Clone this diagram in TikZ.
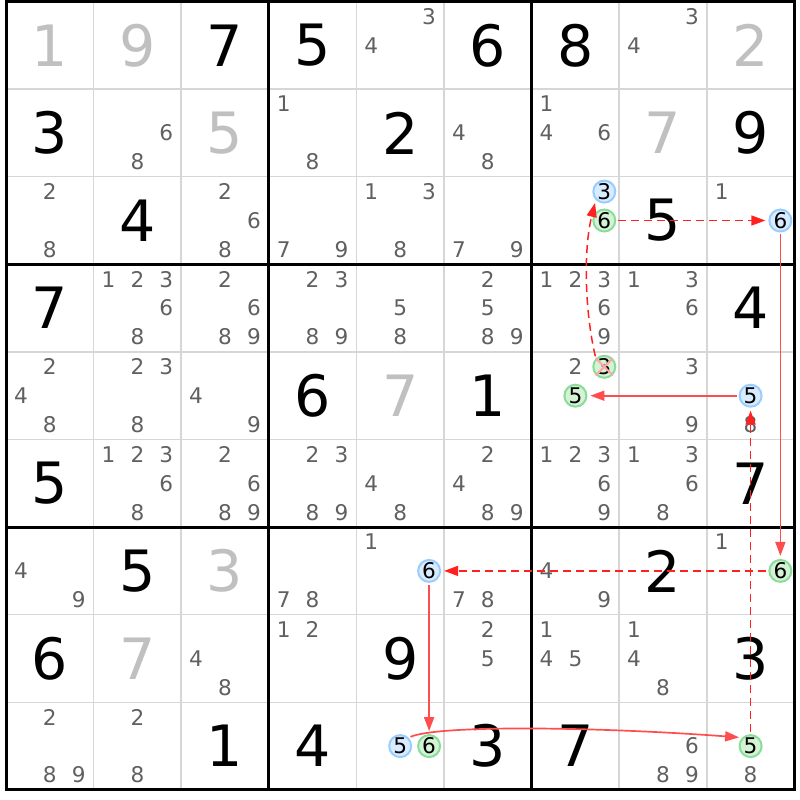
\documentclass[tikz,border=0pt]{standalone}
\usepackage{fontspec}
\setmainfont{DejaVu Sans}
\usetikzlibrary{arrows.meta}
\definecolor{solvedgray}{HTML}{C0C0C0}
\definecolor{candgray}{HTML}{606060}
\definecolor{gridgray}{HTML}{D6D6D6}
\definecolor{onfill}{HTML}{D9EBFF}
\definecolor{onedge}{HTML}{99CCFF}
\definecolor{offfill}{HTML}{D5F2D5}
\definecolor{offedge}{HTML}{88DD99}
\definecolor{linkred}{HTML}{FF2020}
\definecolor{solidred}{HTML}{FF4D4D}
\begin{document}
\begin{tikzpicture}[x=43.8pt,y=-43.8pt,
    given/.style={font=\fontsize{28.5}{30}\selectfont,inner sep=0pt},
    solved/.style={given,text=solvedgray},
    cand/.style={font=\fontsize{10.8}{12}\selectfont,text=candgray,inner sep=0pt},
    oncand/.style={cand,text=black,circle,minimum size=11pt,fill=onfill,draw=onedge,line width=1pt},
    offcand/.style={oncand,fill=offfill,draw=offedge},
    strong/.style={-{Triangle[length=7pt,width=5pt]},color=solidred,line width=0.85pt,shorten >=1.5pt,shorten <=1pt},
    weak/.style={strong,color=linkred,dash pattern=on 4pt off 2.5pt,line width=0.75pt},
]
    \useasboundingbox (-0.0685,-0.017) rectangle (9.064,9.115);

    % thin cell lines
    \foreach \i in {1,2,4,5,7,8} {
        \draw[gridgray,line width=0.75pt] (\i,0) -- (\i,9);
        \draw[gridgray,line width=0.75pt] (0,\i) -- (9,\i);
    }
    % box lines
    \foreach \i in {3,6} {
        \draw[line width=1.5pt] (\i,0) -- (\i,9);
        \draw[line width=1.5pt] (0,\i) -- (9,\i);
    }
    \draw[line width=1.5pt] (0,0) rectangle (9,9);

    % givens
    \foreach \c/\r/\d in {3/1/7, 4/1/5, 6/1/6, 7/1/8, 1/2/3, 5/2/2, 9/2/9, 2/3/4, 8/3/5,
        1/4/7, 9/4/4, 4/5/6, 6/5/1, 1/6/5, 9/6/7, 2/7/5, 8/7/2, 1/8/6, 5/8/9, 9/8/3,
        3/9/1, 4/9/4, 6/9/3, 7/9/7}
        \node[given] (g\c-\r) at (\c-0.5,\r-0.5) {\d};

    % solved cells
    \foreach \c/\r/\d in {1/1/1, 2/1/9, 9/1/2, 3/2/5, 8/2/7, 5/5/7, 3/7/3, 2/8/7}
        \node[solved] (s\c-\r) at (\c-0.5,\r-0.5) {\d};

    % candidates
    \foreach \c/\r/\ds in {5/1/{3,4}, 8/1/{3,4},
        2/2/{6,8}, 4/2/{1,8}, 6/2/{4,8}, 7/2/{1,4,6},
        1/3/{2,8}, 3/3/{2,6,8}, 4/3/{7,9}, 5/3/{1,3,8}, 6/3/{7,9}, 9/3/{1},
        2/4/{1,2,3,6,8}, 3/4/{2,6,8,9}, 4/4/{2,3,8,9}, 5/4/{5,8}, 6/4/{2,5,8,9}, 7/4/{1,2,3,6,9}, 8/4/{1,3,6},
        1/5/{2,4,8}, 2/5/{2,3,8}, 3/5/{4,9}, 7/5/{2}, 8/5/{3,9}, 9/5/{8},
        2/6/{1,2,3,6,8}, 3/6/{2,6,8,9}, 4/6/{2,3,8,9}, 5/6/{4,8}, 6/6/{2,4,8,9}, 7/6/{1,2,3,6,9}, 8/6/{1,3,6,8},
        1/7/{4,9}, 4/7/{7,8}, 5/7/{1}, 6/7/{7,8}, 7/7/{4,9}, 9/7/{1},
        3/8/{4,8}, 4/8/{1,2}, 6/8/{2,5}, 7/8/{1,4,5}, 8/8/{1,4,8},
        1/9/{2,8,9}, 2/9/{2,8}, 8/9/{6,8,9}, 9/9/{8}} {
        \foreach \d in \ds {
            \pgfmathsetmacro\dx{(mod(\d-1,3)-1)*0.33}
            \pgfmathsetmacro\dy{(floor((\d-1)/3)-1)*0.33}
            \node[cand] (c\c-\r-\d) at (\c-0.5+\dx,\r-0.5+\dy) {\d};
        }
    }

    % chain candidates
    \node[oncand] (r3c7d3) at (6.83,2.17) {3};
    \node[offcand] (r3c7d6) at (6.83,2.5) {6};
    \node[oncand] (r3c9d6) at (8.84,2.5) {6};
    \node[offcand] (r5c7d3) at (6.83,4.17) {3};
    \node[offcand] (r5c7d5) at (6.5,4.5) {5};
    \node[oncand] (r5c9d5) at (8.5,4.5) {5};
    \node[oncand] (r7c5d6) at (4.83,6.5) {6};
    \node[offcand] (r7c9d6) at (8.84,6.5) {6};
    \node[oncand] (r9c5d5) at (4.5,8.5) {5};
    \node[offcand] (r9c5d6) at (4.83,8.5) {6};
    \node[offcand] (r9c9d5) at (8.5,8.5) {5};

    % eliminated
    \draw[red!35,line width=1pt] (r5c7d3.north west) -- (r5c7d3.south east);
    \draw[red!35,line width=1pt] (r5c7d3.north east) -- (r5c7d3.south west);

    % links
    \draw[weak] (r3c7d6) -- (r3c9d6);
    \draw[strong] (r3c9d6) -- (r7c9d6);
    \draw[weak] (r7c9d6) -- (r7c5d6);
    \draw[strong] (r7c5d6) -- (r9c5d6);
    \draw[strong] (r9c5d5.north east) .. controls +(0.35,-0.15) and +(-1.6,-0.12) .. (r9c9d5.north west);
    \draw[weak] (r9c9d5) -- (r5c9d5);
    \draw[strong] (r5c9d5) -- (r5c7d5);
    \draw[weak] (r5c7d3.north west) .. controls +(-0.13,-0.55) and +(-0.14,0.55) .. (r3c7d3.south west);
\end{tikzpicture}
\end{document}
